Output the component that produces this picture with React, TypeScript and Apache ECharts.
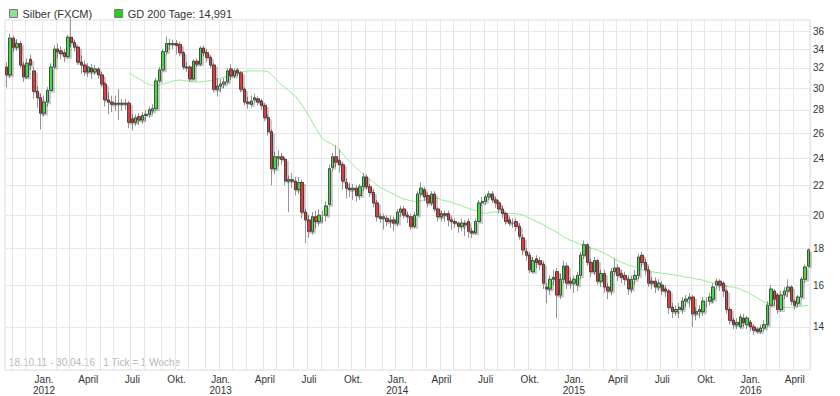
import React, { useEffect, useRef } from 'react';
import * as echarts from 'echarts';

const FONT = '"Liberation Sans", Arial, Helvetica, sans-serif';
const START_MONDAY = Date.UTC(2011, 9, 17);
const DAY = 86400000;

// weekly candles: [open, close, low, high]
const ohlc: number[][] = [
  [32.1, 31.3, 30.1, 32.6], [31.3, 35.2, 31.0, 35.7], [35.2, 34.2, 33.7, 35.5], [34.2, 34.6, 33.8, 35.1],
  [34.6, 32.3, 32.0, 34.9], [32.3, 31.1, 30.6, 32.6], [31.1, 32.5, 30.9, 33.0], [32.9, 32.3, 31.8, 33.4],
  [31.7, 29.7, 29.0, 32.1], [29.7, 29.1, 28.2, 30.2], [29.1, 27.7, 26.3, 29.5], [27.7, 28.7, 27.4, 29.3],
  [28.7, 29.8, 28.3, 30.1], [29.8, 32.1, 29.6, 32.5], [32.1, 34.0, 31.9, 34.4], [34.0, 33.7, 33.0, 34.6],
  [33.8, 33.5, 32.9, 34.3], [33.6, 33.2, 32.6, 34.0], [33.2, 35.3, 33.0, 35.6], [35.3, 34.7, 34.2, 37.5],
  [34.7, 34.2, 33.7, 35.0], [34.2, 32.6, 32.3, 34.4], [32.6, 32.3, 31.4, 33.3], [32.3, 31.6, 31.2, 32.8],
  [31.6, 32.1, 31.1, 32.5], [32.0, 31.6, 30.9, 32.4], [31.6, 31.9, 31.3, 32.3], [31.9, 31.3, 30.9, 32.1],
  [31.3, 30.4, 30.1, 31.6], [30.4, 28.9, 28.3, 30.6], [28.9, 28.7, 27.6, 29.6], [28.7, 28.5, 27.8, 29.3],
  [28.5, 28.6, 27.9, 29.3], [28.6, 28.5, 27.1, 29.9], [28.5, 28.6, 27.9, 29.0], [28.6, 28.5, 28.0, 29.0],
  [28.6, 26.9, 26.4, 28.8], [27.2, 26.9, 26.2, 27.6], [26.9, 27.3, 26.6, 27.6], [27.4, 27.1, 26.7, 27.7],
  [27.1, 27.5, 26.8, 27.8], [27.5, 27.6, 27.0, 28.0], [27.6, 28.0, 27.3, 28.3], [27.9, 28.1, 27.6, 28.5],
  [28.1, 30.7, 27.9, 31.0], [30.7, 31.8, 30.5, 32.1], [31.8, 33.7, 31.6, 34.0], [33.7, 34.6, 33.4, 35.4],
  [34.6, 34.5, 33.9, 35.1], [34.5, 34.6, 34.0, 35.0], [34.6, 34.4, 33.4, 35.0], [34.5, 33.6, 33.2, 34.8],
  [33.6, 32.1, 31.8, 33.8], [32.1, 32.0, 31.6, 32.6], [32.1, 30.9, 30.6, 32.3], [30.9, 32.7, 30.8, 32.9],
  [32.7, 32.4, 32.1, 33.0], [32.4, 34.1, 32.2, 34.3], [34.1, 33.6, 33.2, 34.4], [33.6, 33.1, 32.6, 34.0],
  [33.1, 32.3, 32.0, 33.3], [32.3, 29.9, 29.6, 32.5], [29.9, 30.2, 29.2, 31.0], [30.2, 30.4, 29.6, 30.9],
  [30.4, 30.6, 30.0, 31.0], [30.6, 31.7, 30.4, 32.0], [31.9, 31.2, 30.8, 32.4], [31.2, 31.7, 31.0, 32.0],
  [31.8, 31.5, 31.2, 32.0], [31.5, 29.9, 29.6, 31.7], [29.9, 28.7, 28.4, 30.1], [28.7, 28.6, 28.1, 29.2],
  [28.5, 28.8, 28.2, 29.3], [28.9, 29.1, 28.6, 29.5], [29.0, 28.7, 28.4, 29.2], [28.8, 28.4, 28.0, 29.0],
  [28.4, 27.3, 27.0, 28.6], [27.3, 26.1, 25.8, 27.6], [26.1, 23.2, 22.0, 26.3], [23.2, 24.1, 22.8, 24.5],
  [24.0, 24.1, 23.4, 24.6], [24.1, 23.9, 23.5, 24.4], [23.9, 22.3, 22.0, 24.1], [22.3, 22.4, 20.2, 22.7],
  [22.4, 22.3, 21.8, 22.9], [22.3, 21.7, 21.3, 22.6], [21.7, 22.2, 21.4, 22.6], [22.2, 20.2, 19.8, 22.4],
  [20.2, 19.7, 18.3, 20.4], [19.7, 19.0, 18.6, 20.0], [19.0, 19.9, 18.8, 20.2], [19.9, 19.6, 19.2, 20.3],
  [19.6, 20.0, 19.3, 20.4], [20.0, 20.0, 19.5, 20.3], [20.0, 20.6, 19.6, 20.9], [20.7, 23.2, 20.5, 23.5],
  [23.3, 24.1, 23.0, 24.4], [24.1, 23.7, 23.3, 25.0], [23.8, 23.5, 22.9, 24.7], [23.5, 22.3, 21.7, 23.7],
  [22.2, 21.8, 21.1, 22.5], [21.8, 21.7, 21.2, 22.2], [21.7, 21.8, 21.0, 22.1], [21.8, 21.3, 20.9, 22.0],
  [21.3, 21.9, 21.0, 22.1], [21.9, 22.6, 21.6, 22.9], [22.6, 21.9, 21.7, 22.8], [21.9, 21.5, 21.2, 22.1],
  [21.5, 20.8, 20.5, 21.7], [20.8, 19.9, 19.6, 21.0], [19.9, 19.8, 19.5, 20.1], [19.8, 19.9, 19.1, 20.1],
  [19.8, 19.6, 19.3, 20.0], [19.6, 19.7, 19.2, 20.0], [19.7, 19.5, 19.0, 19.9], [19.5, 20.2, 19.3, 20.4],
  [20.2, 20.4, 19.9, 20.6], [20.4, 20.0, 19.8, 20.6], [20.0, 19.9, 19.5, 20.2], [19.9, 19.3, 19.1, 20.1],
  [19.3, 20.0, 19.2, 20.2], [20.0, 21.4, 19.9, 21.6], [21.4, 21.8, 21.2, 22.2], [21.7, 21.2, 20.9, 21.9],
  [21.3, 20.8, 20.5, 21.5], [20.8, 21.4, 20.6, 21.6], [21.4, 20.4, 20.2, 21.6], [20.4, 19.9, 19.6, 20.5],
  [19.9, 20.1, 19.6, 20.3], [20.1, 20.0, 19.6, 20.3], [20.1, 19.7, 19.3, 20.3], [19.7, 19.6, 19.1, 19.9],
  [19.6, 19.5, 19.2, 19.8], [19.5, 19.3, 18.9, 19.6], [19.3, 19.5, 19.0, 19.8], [19.5, 19.4, 18.7, 19.7],
  [19.6, 19.0, 18.6, 19.8], [19.0, 18.9, 18.6, 19.2], [18.9, 19.6, 18.8, 19.8], [19.6, 20.8, 19.5, 21.0],
  [20.8, 20.9, 20.6, 21.2], [20.9, 21.2, 20.7, 21.4], [21.2, 21.4, 21.0, 21.6], [21.4, 21.0, 20.8, 21.6],
  [21.0, 20.8, 20.5, 21.2], [20.8, 20.4, 20.1, 21.0], [20.4, 20.1, 19.8, 20.6], [20.1, 19.6, 19.4, 20.2],
  [19.7, 19.5, 19.3, 19.9], [19.5, 19.5, 19.2, 19.8], [19.6, 19.3, 19.0, 19.8], [19.3, 18.7, 18.5, 19.5],
  [18.6, 17.9, 17.6, 18.8], [17.8, 17.6, 17.3, 18.0], [17.6, 16.8, 16.6, 17.8], [16.7, 17.3, 16.6, 17.5],
  [17.4, 17.2, 16.9, 17.6], [17.3, 17.1, 16.8, 17.5], [17.1, 16.1, 15.8, 17.3], [15.9, 15.8, 15.1, 16.1],
  [15.8, 16.3, 15.5, 16.5], [16.3, 16.4, 16.0, 16.8], [16.7, 15.5, 14.4, 16.9], [15.5, 16.3, 15.3, 16.6],
  [16.3, 17.0, 16.1, 17.3], [17.0, 16.1, 15.8, 17.2], [16.2, 16.1, 15.8, 16.4], [16.1, 16.3, 15.6, 16.5],
  [16.0, 16.5, 15.7, 16.7], [16.5, 17.6, 16.3, 17.8], [17.6, 18.2, 17.4, 18.45], [18.2, 17.2, 17.0, 18.3],
  [17.2, 16.7, 16.4, 17.4], [16.7, 17.3, 16.5, 17.5], [17.3, 16.2, 16.0, 17.4], [16.2, 16.6, 15.9, 16.8],
  [16.6, 15.9, 15.6, 16.8], [15.9, 15.7, 15.3, 16.1], [15.7, 16.7, 15.5, 16.9], [16.7, 16.9, 16.5, 17.4],
  [16.9, 16.5, 16.2, 17.1], [16.6, 16.4, 16.1, 16.8], [16.5, 16.3, 16.0, 16.7], [16.3, 15.8, 15.5, 16.5],
  [15.8, 16.3, 15.6, 16.5], [16.3, 16.5, 16.0, 16.8], [16.5, 17.5, 16.3, 17.7], [17.6, 17.2, 16.9, 17.8],
  [17.2, 16.8, 16.5, 17.4], [16.8, 16.1, 15.9, 17.0], [16.2, 16.1, 15.8, 16.4], [16.2, 15.9, 15.6, 16.4],
  [15.9, 16.1, 15.7, 16.3], [16.0, 15.7, 15.5, 16.2], [15.8, 15.7, 15.4, 16.0], [15.7, 14.9, 14.6, 15.8],
  [14.9, 14.7, 14.4, 15.1], [14.7, 14.8, 14.5, 15.0], [14.8, 14.9, 14.4, 15.1], [14.8, 15.2, 14.6, 15.4],
  [15.2, 15.3, 14.9, 15.5], [15.3, 15.4, 14.9, 15.6], [15.4, 14.6, 14.0, 15.5], [14.6, 14.7, 14.3, 14.9],
  [14.7, 14.8, 14.4, 15.0], [14.7, 15.2, 14.5, 15.4], [15.2, 15.2, 14.9, 15.4], [15.2, 15.4, 15.0, 15.6],
  [15.3, 15.9, 15.1, 16.1], [16.0, 16.2, 15.8, 16.35], [16.2, 16.0, 15.7, 16.3], [16.1, 15.7, 15.4, 16.2],
  [15.7, 14.8, 14.6, 15.8], [14.8, 14.3, 14.1, 14.9], [14.3, 14.1, 13.9, 14.4], [14.1, 14.2, 13.9, 14.4],
  [14.0, 14.45, 13.9, 14.6], [14.4, 14.2, 14.0, 14.6], [14.1, 14.4, 13.9, 14.5], [14.2, 14.0, 13.8, 14.3],
  [14.0, 13.85, 13.65, 14.1], [13.9, 13.8, 13.7, 14.0], [13.8, 13.95, 13.7, 14.1], [13.95, 14.1, 13.8, 14.3],
  [14.1, 15.0, 14.0, 15.2], [15.0, 15.8, 14.9, 16.0], [15.7, 15.3, 15.0, 15.8], [15.5, 14.8, 14.6, 15.6],
  [14.8, 15.5, 14.7, 15.7], [15.5, 15.7, 15.3, 15.9], [15.7, 15.9, 15.4, 16.3], [15.9, 15.2, 15.0, 16.0],
  [15.2, 15.0, 14.8, 15.3], [15.1, 15.4, 14.9, 15.5], [15.4, 16.3, 15.3, 16.4], [16.3, 16.95, 16.1, 17.1],
  [17.0, 17.9, 16.9, 18.0],
];

// 200-day moving average (weekly readings), starts at week 36
const maValues: number[] = [
  31.5, 31.3, 31.1, 30.9, 30.7, 30.5, 30.35, 30.25, 30.2, 30.3,
  30.4, 30.5, 30.6, 30.7, 30.75, 30.8, 30.75, 30.7, 30.65, 30.6,
  30.6, 30.6, 30.65, 30.7, 30.75, 30.8, 30.9, 31.0, 31.1, 31.2,
  31.3, 31.4, 31.5, 31.6, 31.65, 31.7, 31.7, 31.7, 31.7, 31.7,
  31.7, 31.6, 31.3, 31.0, 30.6, 30.3, 30.05, 29.8, 29.5, 29.25,
  28.85, 28.4, 27.9, 27.45, 26.9, 26.4, 25.95, 25.5, 25.35, 25.2,
  25.05, 24.9, 24.6, 24.3, 24.0, 23.75, 23.5, 23.25, 23.0, 22.8,
  22.6, 22.4, 22.2, 22.0, 21.85, 21.75, 21.6, 21.5, 21.4, 21.25,
  21.15, 21.05, 21.0, 20.95, 20.9, 20.9, 20.95, 21.0, 21.05, 21.1,
  21.1, 21.1, 21.0, 20.95, 20.9, 20.85, 20.75, 20.7, 20.6, 20.5,
  20.45, 20.35, 20.3, 20.2, 20.15, 20.1, 20.15, 20.2, 20.2, 20.2,
  20.15, 20.15, 20.1, 20.1, 20.1, 20.05, 20.0, 19.9, 19.8, 19.7,
  19.6, 19.5, 19.4, 19.25, 19.15, 19.05, 18.95, 18.8, 18.65, 18.55,
  18.45, 18.4, 18.3, 18.2, 18.15, 18.1, 18.0, 17.95, 17.9, 17.8,
  17.7, 17.6, 17.5, 17.4, 17.3, 17.2, 17.15, 17.05, 17.0, 16.95,
  16.9, 16.8, 16.75, 16.7, 16.7, 16.65, 16.65, 16.6, 16.6, 16.55,
  16.55, 16.5, 16.5, 16.45, 16.4, 16.4, 16.35, 16.3, 16.3, 16.25,
  16.2, 16.15, 16.1, 16.1, 16.05, 16.0, 15.95, 15.9, 15.9, 15.85,
  15.8, 15.7, 15.65, 15.55, 15.45, 15.35, 15.25, 15.15, 15.1, 15.05,
  15.0, 14.95, 14.9, 14.9, 14.9, 14.9, 14.92, 14.95, 14.96, 14.98,
  14.991,
];
const MA_START = 36;
const ma200: (number | null)[] = [...Array(MA_START).fill(null), ...maValues];

const yTicks = [14, 16, 18, 20, 22, 24, 26, 28, 30, 32, 34, 36];
const monthLabels: Record<number, string> = { 0: 'Jan.', 3: 'April', 6: 'Juli', 9: 'Okt.' };

// week categories (Friday date of each week)
const fridays: Date[] = ohlc.map((_, i) => new Date(START_MONDAY + (i * 7 + 4) * DAY));
const categories: string[] = fridays.map(
  (d) => `${d.getUTCFullYear()}-${String(d.getUTCMonth() + 1).padStart(2, '0')}-${String(d.getUTCDate()).padStart(2, '0')}`
);
const isMonthStart = (i: number) => i > 0 && fridays[i].getUTCMonth() !== fridays[i - 1].getUTCMonth();
const isQuarterStart = (i: number) => isMonthStart(i) && fridays[i].getUTCMonth() % 3 === 0;

// bodies only (no wicks) drawn on top of the full candles so wicks stay grey
const bodies = ohlc.map(([o, c]) => [o, c, Math.min(o, c), Math.max(o, c)]);

const UP = '#3ee03e';
const DOWN = '#e8393b';

export default function App() {
  const ref = useRef<HTMLDivElement>(null);
  useEffect(() => {
    if (!ref.current) return;
    const chart = echarts.init(ref.current, undefined, { renderer: 'svg' });
    chart.setOption({
      animation: false,
      backgroundColor: '#ffffff',
      textStyle: { fontFamily: FONT },
      grid: { left: 5, right: 30, top: 20, bottom: 26, show: true, borderColor: '#dcdcdc', borderWidth: 1 },
      legend: {
        left: 4,
        top: 3,
        icon: 'rect',
        itemWidth: 8,
        itemHeight: 8,
        itemGap: 22,
        textStyle: { fontSize: 11, color: '#333', fontFamily: FONT },
        data: [
          { name: 'Silber (FXCM)', itemStyle: { color: '#8fe08f', borderColor: '#777', borderWidth: 1 } },
          { name: 'GD 200 Tage: 14,991', itemStyle: { color: '#22d022', borderColor: '#777', borderWidth: 1 } },
        ],
      },
      graphic: [
        {
          type: 'text',
          left: 9,
          top: 357,
          style: { text: '18.10.11 - 30.04.16   1 Tick = 1 Woche', fill: '#b8b8b8', fontSize: 10, fontFamily: FONT },
        },
      ],
      xAxis: {
        type: 'category',
        data: categories,
        boundaryGap: true,
        axisLine: { show: false },
        axisTick: { show: false },
        axisLabel: {
          interval: (i: number) => isQuarterStart(i),
          formatter: (_v: string, i: number) => {
            const m = fridays[i].getUTCMonth();
            const t = monthLabels[m] || '';
            return m === 0 ? `${t}\n${fridays[i].getUTCFullYear()}` : t;
          },
          color: '#333',
          fontSize: 10,
          lineHeight: 11,
          margin: 4,
          fontFamily: FONT,
        },
        splitLine: {
          show: true,
          interval: (i: number) => isMonthStart(i),
          lineStyle: { color: '#e6e6e6', width: 1 },
        },
      },
      yAxis: {
        type: 'log',
        logBase: 10,
        position: 'right',
        min: 12.2,
        max: 37.3,
        axisLine: { show: false },
        axisTick: { show: false, customValues: yTicks },
        axisLabel: { customValues: yTicks, color: '#333', fontSize: 10, margin: 3, fontFamily: FONT },
        splitLine: { show: true, lineStyle: { color: '#e6e6e6', width: 1 } },
      },
      series: [
        {
          name: 'GD 200 Tage: 14,991',
          type: 'line',
          data: ma200,
          showSymbol: false,
          symbol: 'none',
          lineStyle: { color: '#90ee90', width: 1 },
          itemStyle: { color: '#22d022' },
          z: 1,
        },
        {
          name: 'Silber (FXCM)',
          type: 'candlestick',
          data: ohlc,
          barWidth: '86%',
          z: 2,
          itemStyle: {
            color: UP,
            color0: DOWN,
            borderColor: '#959595',
            borderColor0: '#959595',
            borderWidth: 1,
          },
        },
        {
          name: 'Silber (FXCM)',
          type: 'candlestick',
          data: bodies,
          barWidth: '86%',
          z: 3,
          itemStyle: {
            color: UP,
            color0: DOWN,
            borderColor: '#3a3a3a',
            borderColor0: '#3a3a3a',
            borderWidth: 0.8,
            shadowColor: 'rgba(0,0,0,0.22)',
            shadowBlur: 1,
            shadowOffsetX: 2,
            shadowOffsetY: 2,
          },
        },
      ],
    });
    return () => chart.dispose();
  }, []);
  return <div ref={ref} style={{ position: 'fixed', left: 0, top: 0, width: 840, height: 396 }} />;
}
